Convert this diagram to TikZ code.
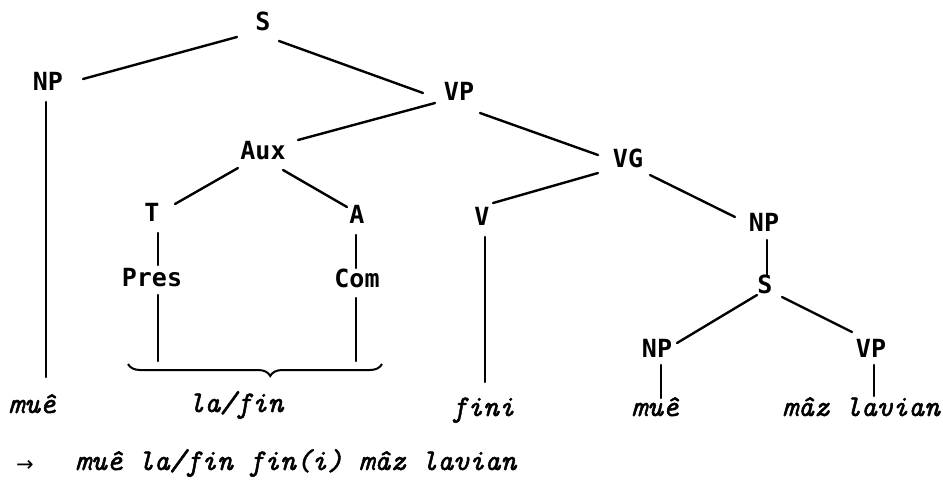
\documentclass[tikz,border=0pt]{standalone}
\usepackage{fontspec}
\newfontfamily\catfont{DejaVu Sans Mono}
\newfontfamily\arrowfont{DejaVu Sans}
\newfontfamily\wordfont{lmmono10-italic.otf}[FakeBold=1.6]
\usetikzlibrary{decorations.pathreplacing}

\tikzset{
  cat/.style={font=\catfont\bfseries\fontsize{25}{28}\selectfont, anchor=base, inner sep=0pt},
  word/.style={font=\wordfont\fontsize{30}{34}\selectfont, anchor=base, inner sep=0pt},
  branch/.style={line width=2.4pt, line cap=round},
}

\begin{document}
\begin{tikzpicture}[x=1pt,y=-1pt]
\fill[white] (0,0) rectangle (943,488);
\useasboundingbox (0,0) rectangle (943,488);

% category labels (placed by their baselines)
\node[cat] (S)    at (263,30)  {S};
\node[cat] (NPa)  at (48,90)   {NP};
\node[cat] (VP)   at (459,100) {VP};
\node[cat] (Aux)  at (263,159) {Aux};
\node[cat] (VG)   at (628,167) {VG};
\node[cat] (T)    at (152,221) {T};
\node[cat] (A)    at (357,223) {A};
\node[cat] (V)    at (482,225) {V};
\node[cat] (NPb)  at (764,231) {NP};
\node[cat] (Pres) at (152,286) {Pres};
\node[cat] (Com)  at (357,287) {Com};
\node[cat] (Sb)   at (765,293) {S};
\node[cat] (NPc)  at (657,357) {NP};
\node[cat] (VPc)  at (871,357) {VP};

% terminal words
\node[word] (w1) at (32,413)  {muê};
\node[word] (w2) at (236,412) {la/fin};
\node[word] (w3) at (483,416) {fini};
\node[word] (w4) at (655,416) {muê};
\node[word] (w5) at (861,416) {mâz lavian};

% resulting string
\node[font=\arrowfont\fontsize{21}{24}\selectfont, anchor=base, inner sep=0pt] (arr) at (25,471) {→};
\node[word, anchor=base west] (sent) at (75,470) {muê la/fin fin(i) mâz lavian};

% ends of the two stems that meet the brace
\coordinate (presend) at (158,361);
\coordinate (comend)  at (356,361);

% branches
\draw[branch] ([shift={(-26,7)}]S.base)   -- ([shift={(35,-11)}]NPa.base);
\draw[branch] ([shift={(16,11)}]S.base)   -- ([shift={(-36,-7)}]VP.base);
\draw[branch] ([shift={(-2,12)}]NPa.base) -- ([shift={(14,-36)}]w1.base);
\draw[branch] ([shift={(-24,3)}]VP.base)  -- ([shift={(35,-19)}]Aux.base);
\draw[branch] ([shift={(21,13)}]VP.base)  -- ([shift={(-30,-12)}]VG.base);
\draw[branch] ([shift={(-25,9)}]Aux.base) -- ([shift={(23,-17)}]T.base);
\draw[branch] ([shift={(20,11)}]Aux.base) -- ([shift={(-10,-16)}]A.base);
\draw[branch] ([shift={(6,12)}]T.base)    -- ([shift={(6,-21)}]Pres.base);
\draw[branch] ([shift={(-1,12)}]A.base)   -- ([shift={(-1,-19)}]Com.base);
\draw[branch] ([shift={(6,9)}]Pres.base)  -- (presend);
\draw[branch] ([shift={(-1,11)}]Com.base) -- (comend);
\draw[branch] ([shift={(-30,6)}]VG.base)  -- ([shift={(11,-22)}]V.base);
\draw[branch] ([shift={(22,8)}]VG.base)   -- ([shift={(-29,-14)}]NPb.base);
\draw[branch] ([shift={(3,12)}]V.base)    -- ([shift={(2,-34)}]w3.base);
\draw[branch] ([shift={(3,9)}]NPb.base)   -- ([shift={(2,-18)}]Sb.base);
\draw[branch] ([shift={(-8,2)}]Sb.base)   -- ([shift={(20,-14)}]NPc.base);
\draw[branch] ([shift={(17,4)}]Sb.base)   -- ([shift={(-19,-25)}]VPc.base);
\draw[branch] ([shift={(4,8)}]NPc.base)   -- ([shift={(6,-18)}]w4.base);
\draw[branch] ([shift={(3,8)}]VPc.base)   -- ([shift={(13,-20)}]w5.base);

% brace grouping Pres and Com over la/fin
\draw[line width=2pt, decorate,
      decoration={brace, mirror, amplitude=12pt, aspect=0.56}]
  (128,364) -- (382,364);
\end{tikzpicture}
\end{document}
